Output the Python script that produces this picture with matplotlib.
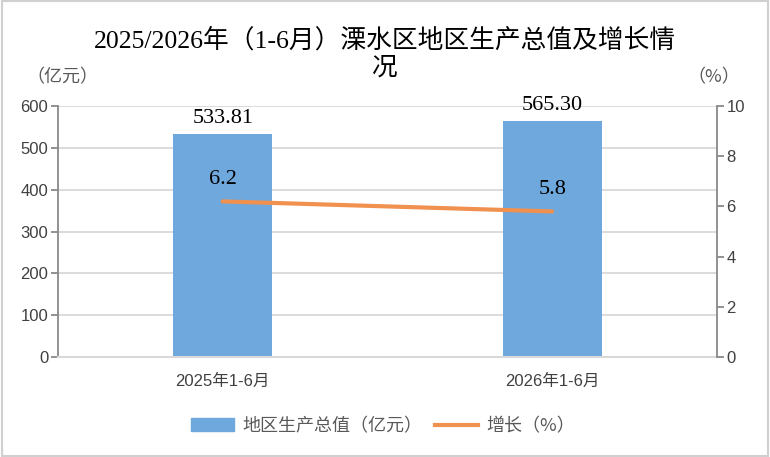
import matplotlib.pyplot as plt
from matplotlib.patches import Rectangle
from matplotlib.lines import Line2D

periods = ["2025年1-6月", "2026年1-6月"]
gdp = [533.81, 565.30]
growth = [6.2, 5.8]

serif = ["Liberation Serif", "Noto Sans CJK SC"]
sans = ["Liberation Sans", "Noto Sans CJK SC"]
cjk = ["Noto Sans CJK SC", "DejaVu Sans"]

bar_color = "#6FA8DC"
line_color = "#F0914F"
spine_color = "#898989"
grid_color = "#D9D9D9"
tick_color = "#404040"

fig = plt.figure(figsize=(7.7, 4.57), dpi=100)
fig.patches.append(Rectangle((0.002, 0.003), 0.996, 0.994, transform=fig.transFigure,
                             fill=False, edgecolor="#D0D0D0", linewidth=1.5))

ax = fig.add_axes([0.0753, 0.2188, 0.8557, 0.5492])
x = list(range(len(periods)))
ax.bar(x, gdp, width=0.3, color=bar_color, zorder=2)
ax.set_xlim(-0.5, 1.5)
ax.set_ylim(0, 600)
ax.set_yticks(range(0, 601, 100))
ax.yaxis.grid(True, color=grid_color, linewidth=1.3, zorder=0)
ax.set_axisbelow(True)
ax.set_xticks(x)
ax.set_xticklabels(periods, family=sans, fontsize=12, color=tick_color)
ax.tick_params(axis="x", length=0, pad=12)
ax.tick_params(axis="y", length=5, width=1.3, color=spine_color, labelsize=12, labelcolor=tick_color, pad=2)
for lab in ax.get_yticklabels():
    lab.set_family(sans)
ax.spines["top"].set_visible(False)
ax.spines["right"].set_visible(False)
ax.spines["left"].set_color(spine_color)
ax.spines["left"].set_linewidth(1.3)
ax.spines["bottom"].set_color(grid_color)
ax.spines["bottom"].set_linewidth(1.5)

for xi, v in zip(x, gdp):
    ax.text(xi, v + 14, f"{v:.2f}", ha="center", va="bottom", family=serif, fontsize=16)

ax2 = ax.twinx()
ax2.plot(x, growth, color=line_color, linewidth=3, solid_capstyle="round", zorder=3)
ax2.set_ylim(0, 10)
ax2.set_yticks(range(0, 11, 2))
ax2.tick_params(axis="y", length=5, width=1.3, color=spine_color, labelsize=12, labelcolor=tick_color, pad=2)
for lab in ax2.get_yticklabels():
    lab.set_family(sans)
for s in ["top", "left", "bottom"]:
    ax2.spines[s].set_visible(False)
ax2.spines["right"].set_color(spine_color)
ax2.spines["right"].set_linewidth(1.3)

for xi, v in zip(x, growth):
    ax2.text(xi, v + 0.5, f"{v}", ha="center", va="bottom", family=serif, fontsize=16)

fig.text(0.5, 0.912, "2025/2026年（1-6月）溧水区地区生产总值及增长情", ha="center", va="center",
         family=serif, fontsize=18.5)
fig.text(0.5, 0.85, "况", ha="center", va="center", family=serif, fontsize=18.5)
fig.text(0.081, 0.831, "（亿元）", ha="center", va="center", family=cjk, fontsize=13, color="#595959")
fig.text(0.927, 0.831, "（%）", ha="center", va="center", family=cjk, fontsize=13, color="#595959")

handles = [Rectangle((0, 0), 1, 1, color=bar_color),
           Line2D([0], [0], color=line_color, linewidth=3)]
leg = fig.legend(handles, ["地区生产总值（亿元）", "增长（%）"], loc="center", bbox_to_anchor=(0.497, 0.068),
                 ncol=2, frameon=False, prop={"family": cjk, "size": 13}, handlelength=2.4,
                 columnspacing=0.7, handletextpad=0.45)
for t in leg.get_texts():
    t.set_color("#595959")

fig.savefig("out.png", dpi=100)
